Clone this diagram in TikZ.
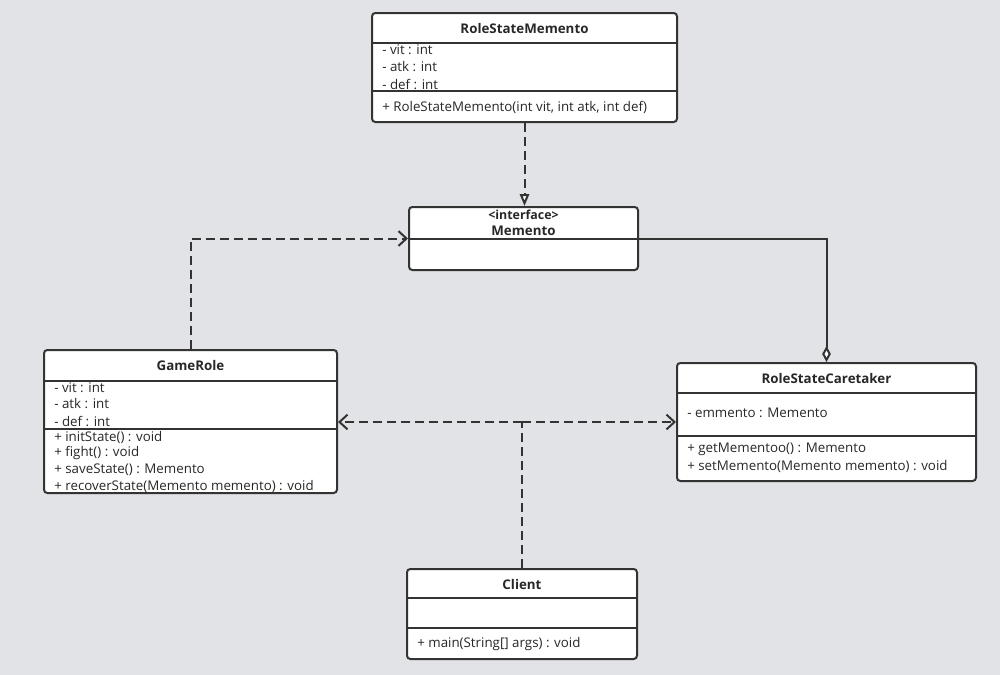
\documentclass[tikz,border=0pt]{standalone}
\usepackage{fontspec}
\setmainfont{Open Sans}
\usetikzlibrary{arrows.meta}
\definecolor{bgc}{RGB}{226,227,231}
\definecolor{lnc}{RGB}{51,51,51}
\definecolor{txc}{RGB}{40,40,40}

\begin{document}
\begin{tikzpicture}[x=0.75pt,y=0.75pt,yscale=-1,xscale=1,
  font=\fontsize{10}{12}\selectfont, text=txc,
  cls/.style={draw=lnc, line width=1.5, fill=white, rounded corners=2.5pt, inner sep=0pt},
  ttl/.style={font=\fontsize{10}{12}\selectfont\bfseries, inner sep=0pt},
  mbr/.style={anchor=west, inner sep=0pt},
  sep/.style={draw=lnc, line width=1.5},
  dsh/.style={draw=lnc, line width=1.5, dash pattern=on 7pt off 3.5pt},
  dep/.style={dsh, -{Straight Barb[length=6pt,width=11pt]}},
  real/.style={dsh, -{Triangle[fill=white,length=9pt,width=7pt]}},
  agg/.style={draw=lnc, line width=1.5, -{Diamond[fill=white,length=12pt,width=6.5pt]}}]
\useasboundingbox (0,0) rectangle (1000,675);
\fill[bgc] (0,0) rectangle (1000,675);

%Shape: Class RoleStateMemento
\node[cls, minimum width=228.75pt, minimum height=81.75pt] (rsm) at (524.5,67.5) {};
\draw[sep] (372,43) -- (677,43);
\draw[sep] (372,91) -- (677,91);
% Text Node
\node[ttl] (rsmT) at (524.5,28) {RoleStateMemento};
\node[mbr] (rsmA) at (382,50) {- vit : int};
\node[mbr] (rsmB) at (382,67) {- atk : int};
\node[mbr] (rsmC) at (382,84) {- def : int};
\node[mbr] (rsmM) at (382,107) {+ RoleStateMemento(int vit, int atk, int def)};

%Shape: Interface Memento
\node[cls, minimum width=171.75pt, minimum height=47.25pt] (memento) at (523.5,238.5) {};
\draw[sep] (409,239) -- (638,239);
% Text Node
\node[ttl, font=\fontsize{9.3}{11}\selectfont\bfseries] (mementoS) at (523.5,215) {\textless interface\textgreater};
\node[ttl] (mementoT) at (523.5,231) {Memento};

%Shape: Class GameRole
\node[cls, minimum width=219.75pt, minimum height=107.25pt] (gamerole) at (190.5,421.5) {};
\draw[sep] (44,381) -- (337,381);
\draw[sep] (44,429) -- (337,429);
% Text Node
\node[ttl] (gameroleT) at (190.5,365) {GameRole};
\node[mbr] (gameroleA) at (54,388) {- vit : int};
\node[mbr] (gameroleB) at (54,404) {- atk : int};
\node[mbr] (gameroleC) at (54,421) {- def : int};
\node[mbr] (gameroleM1) at (54,437) {+ initState() : void};
\node[mbr] (gameroleM2) at (54,453) {+ fight() : void};
\node[mbr] (gameroleM3) at (54,470) {+ saveState() : Memento};
\node[mbr] (gameroleM4) at (54,486) {+ recoverState(Memento memento) : void};

%Shape: Class RoleStateCaretaker
\node[cls, minimum width=224.25pt, minimum height=88.5pt] (caretaker) at (826.5,422) {};
\draw[sep] (677,393) -- (976,393);
\draw[sep] (677,436) -- (976,436);
% Text Node
\node[ttl] (caretakerT) at (826.5,378) {RoleStateCaretaker};
\node[mbr] (caretakerA) at (687,413) {- emmento : Memento};
\node[mbr] (caretakerM1) at (687,449) {+ getMementoo() : Memento};
\node[mbr] (caretakerM2) at (687,466) {+ setMemento(Memento memento) : void};

%Shape: Class Client
\node[cls, minimum width=172.5pt, minimum height=67.5pt] (client) at (522,614) {};
\draw[sep] (407,598) -- (637,598);
\draw[sep] (407,628) -- (637,628);
% Text Node
\node[ttl] (clientT) at (522,584) {Client};
\node[mbr] (clientM) at (417,644) {+ main(String[] args) : void};

%Straight Lines
\draw[real] (rsm.south) -- (rsm.south |- memento.north);
\draw[dep] (gamerole.north) |- (memento.west);
\draw[agg] (memento.east) -| (caretaker.north);
\coordinate (split) at (522,422);
\draw[dsh] (client.north) -- (split);
\draw[dep] (split) -- (split -| gamerole.east);
\draw[dep] (split) -- (split -| caretaker.west);

\end{tikzpicture}
\end{document}
